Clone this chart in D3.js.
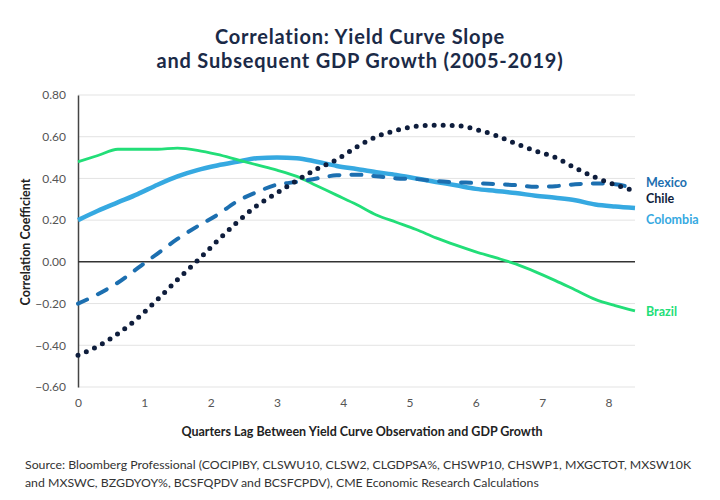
<!DOCTYPE html>
<html>
<head>
<meta charset="utf-8">
<style>
  body { margin: 0; background: #fff; }
  text { font-family: Lato, "Open Sans", sans-serif; }
</style>
</head>
<body>
<svg width="720" height="500"></svg>
<script src="https://d3js.org/d3.v7.min.js"></script>
<script>

    // lag in quarters
    var lags = [0, 0.3, 0.6, 0.9, 1.2, 1.5, 1.8, 2.1, 2.4, 2.7, 3.0, 3.3, 3.6, 3.9, 4.2,
                4.5, 4.8, 5.1, 5.4, 5.7, 6.0, 6.3, 6.6, 6.9, 7.2, 7.5, 7.8, 8.1, 8.4];

    var brazil = [0.48, 0.51, 0.54, 0.54, 0.54, 0.545, 0.535, 0.515, 0.49, 0.465, 0.44, 0.41, 0.365, 0.32, 0.275,
                  0.225, 0.19, 0.155, 0.115, 0.08, 0.048, 0.02, -0.01, -0.048, -0.09, -0.135, -0.18, -0.21, -0.235];
    var colombia = [0.20, 0.245, 0.285, 0.325, 0.37, 0.41, 0.44, 0.462, 0.48, 0.497, 0.50, 0.497, 0.48, 0.46, 0.445,
                    0.43, 0.417, 0.40, 0.383, 0.367, 0.35, 0.34, 0.33, 0.317, 0.307, 0.295, 0.275, 0.265, 0.258];
    var mexico = [-0.20, -0.155, -0.10, -0.03, 0.04, 0.11, 0.17, 0.225, 0.29, 0.335, 0.37, 0.383, 0.40, 0.415, 0.418,
                  0.41, 0.40, 0.397, 0.387, 0.382, 0.378, 0.373, 0.368, 0.36, 0.363, 0.372, 0.376, 0.372, 0.35];
    var chile = [-0.448, -0.405, -0.345, -0.27, -0.18, -0.085, 0.005, 0.10, 0.19, 0.27, 0.33, 0.39, 0.445, 0.49, 0.55,
                 0.60, 0.63, 0.65, 0.655, 0.654, 0.635, 0.606, 0.567, 0.532, 0.50, 0.45, 0.405, 0.37, 0.34];

    var xTicks = [0, 1, 2, 3, 4, 5, 6, 7, 8];
    var yTicks = [-0.6, -0.4, -0.2, 0, 0.2, 0.4, 0.6, 0.8];

    var svg = d3.select("svg");

    var x = d3.scaleLinear().domain([0, 8.4]).range([78, 635]);
    var y = d3.scaleLinear().domain([-0.6, 0.8]).range([387, 95]);

    // title
    svg.append("text")
        .attr("x", 360).attr("y", 44)
        .attr("text-anchor", "middle")
        .style("font-size", "20px").style("font-weight", 700).style("letter-spacing", "0.8px")
        .attr("fill", "#1b2a47")
        .text("Correlation: Yield Curve Slope");
    svg.append("text")
        .attr("x", 360).attr("y", 68)
        .attr("text-anchor", "middle")
        .style("font-size", "20px").style("font-weight", 700).style("letter-spacing", "0.8px")
        .attr("fill", "#1b2a47")
        .text("and Subsequent GDP Growth (2005-2019)");

    // gridlines
    svg.append("g")
        .selectAll("line")
        .data(yTicks.filter(function(d) { return d !== 0; }))
        .enter().append("line")
        .attr("x1", x(0)).attr("x2", x(8.4))
        .attr("y1", function(d) { return y(d); })
        .attr("y2", function(d) { return y(d); })
        .attr("stroke", "#e3e3e3").attr("stroke-width", 1);

    // y axis
    var yAxis = svg.append("g")
        .attr("transform", "translate(" + x(0) + ",0)")
        .call(d3.axisLeft(y).tickValues(yTicks).tickFormat(d3.format(".2f")).tickSize(0).tickPadding(12));
    yAxis.select(".domain").attr("stroke", "#444").attr("stroke-width", 1.5);
    yAxis.selectAll("text").style("font-size", "12px").attr("fill", "#555").style("font-family", "Lato, sans-serif");

    // x axis labels
    var xAxis = svg.append("g")
        .attr("transform", "translate(0," + y(-0.6) + ")")
        .call(d3.axisBottom(x).tickValues(xTicks).tickFormat(d3.format("d")).tickSize(0).tickPadding(11));
    xAxis.select(".domain").remove();
    xAxis.selectAll("text").style("font-size", "12px").attr("fill", "#555").style("font-family", "Lato, sans-serif");

    // zero line
    svg.append("line")
        .attr("x1", x(0)).attr("x2", x(8.4))
        .attr("y1", y(0)).attr("y2", y(0))
        .attr("stroke", "#333").attr("stroke-width", 1.5);

    // axis titles
    svg.append("text")
        .attr("x", 362).attr("y", 436)
        .attr("text-anchor", "middle")
        .style("font-size", "12.5px").style("font-weight", 700)
        .attr("fill", "#222")
        .text("Quarters Lag Between Yield Curve Observation and GDP Growth");
    svg.append("text")
        .attr("transform", "translate(30,242) rotate(-90)")
        .attr("text-anchor", "middle")
        .style("font-size", "12.5px").style("font-weight", 700)
        .attr("fill", "#222")
        .text("Correlation Coefficient");

    var line = d3.line()
        .x(function(d, i) { return x(lags[i]); })
        .y(function(d) { return y(d); })
        .curve(d3.curveMonotoneX);

    var series = [
        {name: "Colombia", values: colombia, color: "#36a9e1", width: 4.5, dash: null, cap: "butt", ly: 220},
        {name: "Brazil", values: brazil, color: "#22de78", width: 2.8, dash: null, cap: "butt", ly: 312},
        {name: "Mexico", values: mexico, color: "#1c6fb0", width: 4, dash: "10,12", cap: "round", ly: 183},
        {name: "Chile", values: chile, color: "#0e1d3c", width: 5, dash: "0,9", cap: "round", ly: 199}
    ];

    series.forEach(function(s) {
        svg.append("path")
            .datum(s.values)
            .attr("fill", "none")
            .attr("stroke", s.color)
            .attr("stroke-width", s.width)
            .attr("stroke-linecap", s.cap)
            .attr("stroke-dasharray", s.dash)
            .attr("d", line);
        svg.append("text")
            .attr("x", 646).attr("y", s.ly + 4)
            .style("font-size", "12.5px").style("font-weight", 700)
            .attr("fill", s.color)
            .text(s.name);
    });

    // source
    svg.append("text")
        .attr("x", 25).attr("y", 469)
        .style("font-size", "12.3px")
        .attr("fill", "#333")
        .text("Source: Bloomberg Professional (COCIPIBY, CLSWU10, CLSW2, CLGDPSA%, CHSWP10, CHSWP1, MXGCTOT, MXSW10K");
    svg.append("text")
        .attr("x", 25).attr("y", 487)
        .style("font-size", "12.3px")
        .attr("fill", "#333")
        .text("and MXSWC, BZGDYOY%, BCSFQPDV and BCSFCPDV), CME Economic Research Calculations");

</script>
</body>
</html>
